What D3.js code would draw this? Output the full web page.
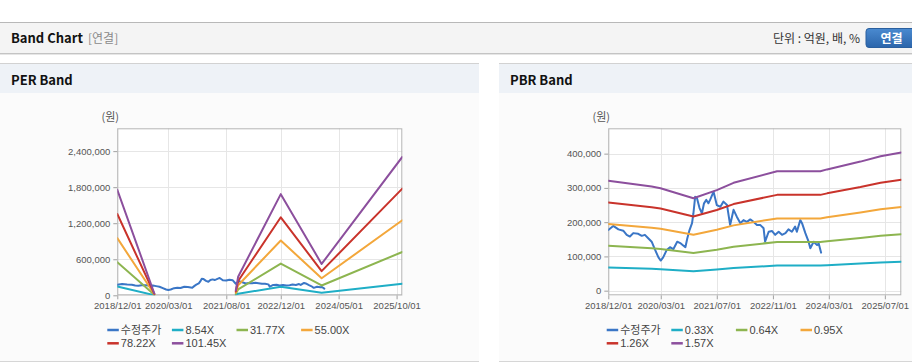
<!DOCTYPE html>
<html><head><meta charset="utf-8">
<script src="https://cdn.jsdelivr.net/npm/d3@7"></script>
<style>
body{margin:0;background:#fff;}
svg{display:block;font-family:"Liberation Sans",Arial,"Noto Sans CJK KR",sans-serif;}
.kr{font-family:"Noto Sans CJK KR","Liberation Sans",sans-serif;}
</style>
</head><body>
<svg id="c" width="912" height="364"></svg>
<script>
// ---------- DATA ----------
const seriesNames = ["수정주가"];
const perLabels = ["8.54X","31.77X","55.00X","78.22X","101.45X"];
const pbrLabels = ["0.33X","0.64X","0.95X","1.26X","1.57X"];

const perXTicks = ["2018-12-01","2020-03-01","2021-08-01","2022-12-01","2024-05-01","2025-10-01"];
const pbrXTicks = ["2018-12-01","2020-03-01","2021-07-01","2022-11-01","2024-03-01","2025-07-01"];
const perYTicks = [0,600000,1200000,1800000,2400000];
const pbrYTicks = [0,100000,200000,300000,400000];
const perYDomain = [0,2780000];
const pbrYDomain = [-13500,474000];
const xDomain = ["2018-12-01","2025-11-21"];

const priceDates = ["2018-12-01","2019-01-13","2019-02-27","2019-04-10","2019-05-10","2019-06-07","2019-07-06","2019-08-18","2019-09-18","2019-10-15","2019-11-13","2019-12-13","2020-01-12","2020-02-10","2020-03-01","2020-03-22","2020-04-22","2020-05-20","2020-06-18","2020-07-22","2020-08-22","2020-10-01","2020-10-18","2020-11-06","2020-11-28","2020-12-10","2020-12-25","2021-01-10","2021-02-01","2021-02-22","2021-03-12","2021-04-01","2021-04-19","2021-05-04","2021-06-03","2021-07-01","2021-08-01","2021-08-28","2021-09-28","2021-10-25","2021-11-24","2021-12-22","2022-01-22","2022-02-18","2022-03-20","2022-04-18","2022-05-16","2022-06-15","2022-07-13","2022-08-12","2022-08-25","2022-09-25","2022-10-25","2022-11-21","2022-12-21","2023-01-19","2023-02-18","2023-03-16","2023-04-15","2023-05-13","2023-05-28","2023-06-27","2023-07-12","2023-08-10","2023-09-07","2023-09-22","2023-10-21","2023-11-20","2023-12-04","2023-12-25"];
const priceValues = [177000,189000,179000,175000,163000,158000,168000,166000,160000,163000,153000,143000,119000,97000,88000,97000,119000,127000,121000,143000,138000,127000,153000,177000,197000,226000,274000,270000,241000,226000,255000,265000,255000,265000,289000,250000,245000,260000,250000,192000,236000,216000,197000,206000,201000,208000,201000,192000,192000,182000,143000,172000,174000,163000,172000,163000,168000,179000,172000,187000,172000,206000,197000,168000,143000,124000,143000,133000,138000,111000];

const perBandDates = ["2018-12-01","2019-10-28","2020-12-01","2021-10-25","2021-11-15","2022-12-01","2023-12-01","2025-11-21"];
const per854   = [147700, 2600,null, 6800, 26000, 141800, 44000, 194000];
const per3177  = [549600, 9500,null,25400, 96900, 527400,163600, 721200];
const per5500  = [951500,16500,null,44000,167800, 913000,283300,1248500];
const per7822  = [1353200,23500,null,62600,238600,1298500,402800,1775600];
const per10145 = [1755100,30400,null,81200,309400,1684100,522500,2303000];

const pbrBandDates = ["2018-12-01","2019-12-13","2020-02-28","2020-12-10","2021-07-01","2021-11-24","2022-12-07","2023-12-18","2024-02-15","2024-12-01","2025-05-25","2025-11-21"];
const pbr033 = [67500,63900,62900,56800,61700,66200,73300,73300,74400,79200,82500,84800];
const pbr064 = [130900,123800,121900,110100,119700,128400,142100,142100,144300,153600,160000,164500];
const pbr095 = [194300,183800,181000,163400,177700,190600,210900,210900,214200,228000,237500,244200];
const pbr126 = [257700,243800,240000,216700,235600,252800,279700,279700,284100,302400,315000,323800];
const pbr157 = [321100,303800,299100,270000,293600,314900,348500,348500,354000,376800,392500,403500];

const colors = ["#3a76c6","#1faec6","#8db550","#f3a73b","#c9332b","#8c4f9d"];

// ---------- DRAW ----------
const svg = d3.select("#c");
const parse = d3.timeParse("%Y-%m-%d");

// page header
svg.append("rect").attr("x",0).attr("y",0).attr("width",912).attr("height",364).attr("fill","#fff");
svg.append("rect").attr("x",0).attr("y",23).attr("width",912).attr("height",30).attr("fill","#f4f4f4");
svg.append("line").attr("x1",0).attr("x2",912).attr("y1",22.5).attr("y2",22.5).attr("stroke","#b8b8b8");
svg.append("line").attr("x1",0).attr("x2",912).attr("y1",53.5).attr("y2",53.5).attr("stroke","#c4c4c4");
svg.append("line").attr("x1",0).attr("x2",912).attr("y1",54.5).attr("y2",54.5).attr("stroke","#e6e6e6");
svg.append("text").attr("class","kr").attr("x",11).attr("y",43).attr("font-size",13).attr("font-weight","bold").attr("fill","#111").text("Band Chart");
svg.append("text").attr("class","kr").attr("x",88).attr("y",43).attr("font-size",12).attr("fill","#8a8a8a").text("[연결]");
svg.append("text").attr("class","kr").attr("x",860).attr("y",43).attr("text-anchor","end").attr("font-size",12).attr("fill","#333").text("단위 : 억원, 배, %");
const defs = svg.append("defs");
const g1 = defs.append("linearGradient").attr("id","btn").attr("x1",0).attr("x2",0).attr("y1",0).attr("y2",1);
g1.append("stop").attr("offset","0%").attr("stop-color","#4a8ad0");
g1.append("stop").attr("offset","100%").attr("stop-color","#2b65ab");
svg.append("rect").attr("x",866).attr("y",28.5).attr("width",52).attr("height",19).attr("rx",3).attr("fill","url(#btn)").attr("stroke","#2a5f9e");
svg.append("text").attr("class","kr").attr("x",891.5).attr("y",42.5).attr("text-anchor","middle").attr("font-size",12).attr("font-weight","bold").attr("fill","#fff").text("연결");

function drawPanel(px, pw, title){
  svg.append("rect").attr("x",px).attr("y",64).attr("width",pw).attr("height",29).attr("fill","#eef2f7");
  svg.append("rect").attr("x",px).attr("y",93).attr("width",pw).attr("height",268).attr("fill","#fbfbfb");
  svg.append("line").attr("x1",px).attr("x2",px+pw).attr("y1",63.5).attr("y2",63.5).attr("stroke","#d2d2d2");
  svg.append("line").attr("x1",px).attr("x2",px+pw).attr("y1",361.5).attr("y2",361.5).attr("stroke","#d6d6d6");
  svg.append("text").attr("class","kr").attr("x",px+11).attr("y",85).attr("font-size",13).attr("font-weight","bold").attr("fill","#111").text(title);
}
drawPanel(0,479,"PER Band");
drawPanel(499,413,"PBR Band");

function drawChart(o){
  const x = d3.scaleTime().domain(xDomain.map(parse)).range([o.left,o.right]);
  const y = d3.scaleLinear().domain(o.yDomain).range([o.bottom,o.top]);
  const g = svg.append("g");
  g.append("rect").attr("x",o.left).attr("y",o.top).attr("width",o.right-o.left).attr("height",o.bottom-o.top).attr("fill","#fff");
  // grid
  g.selectAll(".hg").data(o.yTicks).join("line")
    .attr("x1",o.left).attr("x2",o.right).attr("y1",d=>Math.round(y(d))+0.5).attr("y2",d=>Math.round(y(d))+0.5)
    .attr("stroke","#e6e6e6");
  g.selectAll(".vg").data(o.xTicks.map(parse)).join("line")
    .attr("x1",d=>Math.round(x(d))+0.5).attr("x2",d=>Math.round(x(d))+0.5).attr("y1",o.top).attr("y2",o.bottom)
    .attr("stroke","#e6e6e6");
  // axes
  const ya = g.append("g").attr("transform",`translate(${o.left},0)`)
    .call(d3.axisLeft(y).tickValues(o.yTicks).tickSize(4).tickPadding(3).tickFormat(d3.format(",")));
  const xa = g.append("g").attr("transform",`translate(0,${o.bottom})`)
    .call(d3.axisBottom(x).tickValues(o.xTicks.map(parse)).tickSize(4).tickPadding(3).tickFormat(d3.timeFormat("%Y/%m/%d")));
  [ya,xa].forEach(a=>{
    a.select(".domain").remove();
    a.selectAll("line").attr("stroke","#a0a0a0");
    a.selectAll("text").attr("font-size",9.5).attr("fill","#555").attr("font-family","Liberation Sans, Arial, sans-serif");
  });
  // border
  g.append("rect").attr("x",o.left+0.5).attr("y",o.top+0.5).attr("width",o.right-o.left-1).attr("height",o.bottom-o.top-1)
    .attr("fill","none").attr("stroke","#b4b4b4");
  g.append("text").attr("class","kr").attr("x",o.unitX).attr("y",121).attr("font-size",11).attr("fill","#555").text("(원)");
  // lines
  const line = d3.line().defined(d=>d.v!=null).x(d=>x(d.d)).y(d=>y(d.v));
  const series = [{dates:priceDates, vals:priceValues}].concat(o.bands.map(b=>({dates:o.bandDates, vals:b})));
  const clip = "clip"+o.left;
  defs.append("clipPath").attr("id",clip).append("rect").attr("x",o.left).attr("y",o.top).attr("width",o.right-o.left).attr("height",o.bottom-o.top);
  const lg = g.append("g").attr("clip-path",`url(#${clip})`);
  series.forEach((s,i)=>{
    const pts = s.dates.map((d,j)=>({d:parse(d), v:s.vals[j]}));
    lg.append("path").attr("d",line(pts)).attr("fill","none").attr("stroke",colors[i])
      .attr("stroke-width",2).attr("stroke-linejoin","round").attr("stroke-linecap","round");
  });
  // legend
  const names = seriesNames.concat(o.labels);
  names.forEach((n,i)=>{
    const col = i<4 ? i : i-4, row = i<4 ? 0 : 1;
    const lx = o.legX + col*64.6, ly = 330 + row*13.3;
    g.append("line").attr("x1",lx).attr("x2",lx+11.5).attr("y1",ly).attr("y2",ly).attr("stroke",colors[i]).attr("stroke-width",2.5);
    g.append("text").attr("class", i===0?"kr":null).attr("x",lx+13.5).attr("y",ly+4).attr("font-size",11).attr("fill","#444").text(n);
  });
}

drawChart({left:117.3,right:402.3,top:128.3,bottom:295.3,yDomain:perYDomain,yTicks:perYTicks,xTicks:perXTicks,
  bandDates:perBandDates,bands:[per854,per3177,per5500,per7822,per10145],labels:perLabels,legX:107.3,unitX:101.5});
drawChart({left:608.3,right:901.3,top:128.3,bottom:295.3,yDomain:pbrYDomain,yTicks:pbrYTicks,xTicks:pbrXTicks,
  bandDates:pbrBandDates,bands:[pbr033,pbr064,pbr095,pbr126,pbr157],labels:pbrLabels,legX:606.7,unitX:592.5});
</script>
</body></html>
